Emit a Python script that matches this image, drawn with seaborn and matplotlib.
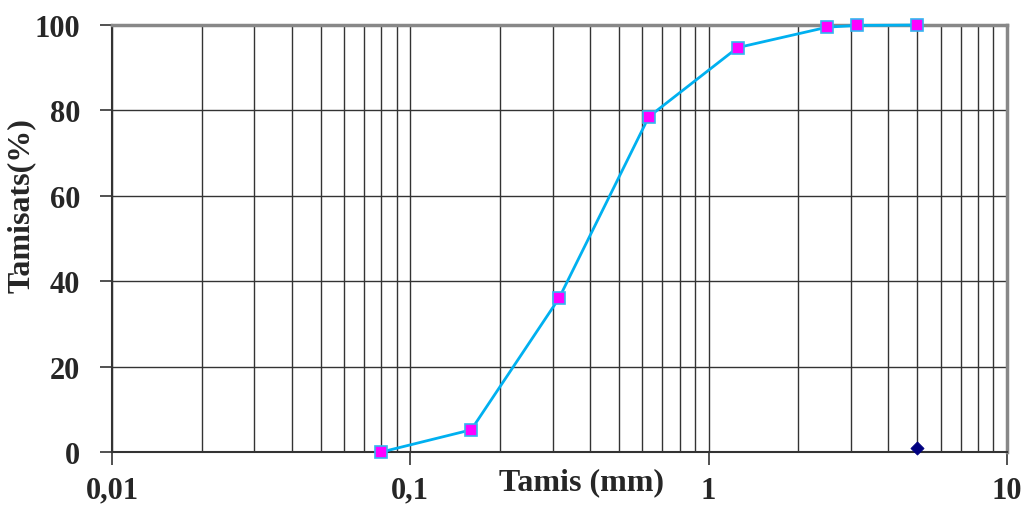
import matplotlib
matplotlib.use("Agg")
import matplotlib.pyplot as plt
import seaborn as sns
import pandas as pd
from matplotlib.ticker import FixedLocator, FixedFormatter, NullFormatter

sieve_mm = [0.08, 0.16, 0.315, 0.63, 1.25, 2.5, 3.15, 5.0]
passing_pct = [0.0, 5.2, 36.0, 78.5, 94.7, 99.5, 99.9, 100.0]
extra_x = [5.0]
extra_y = [1.0]
xtick_vals = [0.01, 0.1, 1, 10]
xtick_labels = ["0,01", "0,1", "1", "10"]
ytick_vals = [0, 20, 40, 60, 80, 100]

sns.set_theme(style="white")
plt.rcParams['font.family'] = ['Liberation Serif', 'DejaVu Serif']
plt.rcParams['font.weight'] = 'bold'

fig = plt.figure(figsize=(10.28, 5.06), dpi=100)
ax = fig.add_axes([112/1028, 1-453/506, (1007-112)/1028, (453-26)/506])

df = pd.DataFrame({"x": sieve_mm, "y": passing_pct})
sns.lineplot(data=df, x="x", y="y", ax=ax, color="#00B0F0", lw=2,
             marker="s", markersize=9, markerfacecolor="#FF00FF",
             markeredgecolor="#33B5F0", markeredgewidth=1.2, zorder=5,
             clip_on=False)
sns.scatterplot(x=extra_x, y=extra_y, ax=ax, marker="D", s=45,
                color="#000080", edgecolor="#000080", zorder=6, clip_on=False)

ax.set_xscale("log")
ax.set_xlim(0.01, 10)
ax.set_ylim(0, 100)

ax.xaxis.set_major_locator(FixedLocator(xtick_vals))
ax.xaxis.set_major_formatter(FixedFormatter(xtick_labels))
ax.xaxis.set_minor_formatter(NullFormatter())
ax.set_yticks(ytick_vals)
ax.set_yticklabels([str(v) for v in ytick_vals])

ax.grid(True, which="both", axis="x", color="#333333", lw=1.0)
ax.grid(True, which="major", axis="y", color="#333333", lw=1.0)
ax.tick_params(axis="x", which="minor", length=0)
ax.tick_params(axis="both", which="major", direction="out", length=9,
               width=1.2, color="#333333", labelsize=22)
ax.tick_params(axis="x", which="major", pad=8, bottom=True)
ax.tick_params(axis="y", which="major", pad=14, left=True)
for lab in ax.get_xticklabels() + ax.get_yticklabels():
    lab.set_fontweight("bold")

for s in ["left", "bottom"]:
    ax.spines[s].set_color("#333333")
    ax.spines[s].set_linewidth(1.5)
for s in ["top", "right"]:
    ax.spines[s].set_color("#888888")
    ax.spines[s].set_linewidth(2.5)

ax.set_xlabel("Tamis (mm)", fontsize=23, fontweight="bold")
ax.xaxis.set_label_coords(0.525, -0.035)
ax.set_ylabel("Tamisats(%)", fontsize=23, fontweight="bold")
ax.yaxis.set_label_coords(-0.085, 0.58)

fig.savefig("out.png", dpi=100)
